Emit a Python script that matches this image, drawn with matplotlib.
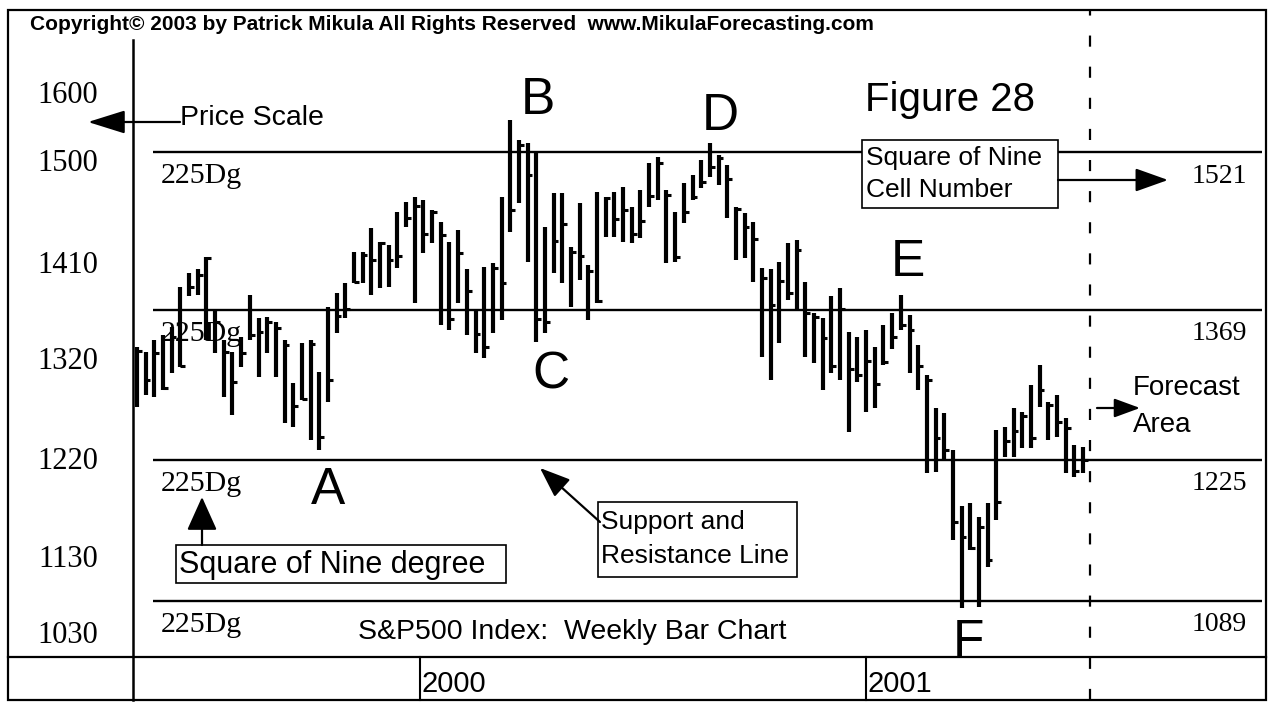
import matplotlib
matplotlib.use("Agg")
import matplotlib.pyplot as plt
from matplotlib.patches import Rectangle, FancyArrowPatch

# ---------------- data (weekly S&P500 bars) ----------------
highs = [1333, 1329, 1340, 1345, 1353, 1391, 1405, 1408, 1420, 1369,
         1340, 1329, 1343, 1383, 1361, 1362, 1357, 1340, 1299, 1337,
         1340, 1309, 1372, 1385, 1395, 1425, 1425, 1448, 1434, 1432,
         1463, 1473, 1478, 1475, 1465, 1454, 1434, 1446, 1408, 1369,
         1410, 1414, 1478, 1552, 1533, 1530, 1520, 1449, 1482, 1482,
         1430, 1472, 1412, 1483, 1478, 1483, 1487, 1468, 1484, 1510,
         1516, 1484, 1463, 1491, 1499, 1513, 1530, 1518, 1509, 1468,
         1462, 1454, 1409, 1408, 1415, 1433, 1436, 1396, 1366, 1361,
         1382, 1390, 1348, 1343, 1350, 1333, 1355, 1366, 1383, 1364,
         1335, 1306, 1275, 1270, 1234, 1180, 1183, 1170, 1183, 1254,
         1256, 1275, 1271, 1297, 1316, 1280, 1287, 1265, 1239, 1237]
lows = [1276, 1287, 1285, 1292, 1308, 1314, 1382, 1383, 1340, 1328,
        1285, 1268, 1314, 1340, 1305, 1328, 1305, 1260, 1256, 1282,
        1244, 1234, 1280, 1347, 1361, 1395, 1395, 1383, 1390, 1391,
        1409, 1449, 1376, 1424, 1433, 1355, 1350, 1376, 1345, 1328,
        1323, 1347, 1359, 1444, 1472, 1415, 1338, 1347, 1405, 1395,
        1372, 1398, 1359, 1376, 1439, 1439, 1434, 1433, 1438, 1468,
        1475, 1414, 1415, 1453, 1475, 1486, 1497, 1489, 1458, 1417,
        1419, 1396, 1324, 1302, 1337, 1379, 1369, 1324, 1318, 1292,
        1308, 1302, 1252, 1300, 1271, 1275, 1316, 1331, 1350, 1308,
        1292, 1212, 1213, 1225, 1148, 1082, 1138, 1083, 1122, 1167,
        1228, 1228, 1236, 1236, 1276, 1244, 1247, 1212, 1208, 1212]
closes = [1330, 1302, 1328, 1294, 1343, 1315, 1391, 1403, 1419, 1357,
          1329, 1300, 1328, 1345, 1348, 1357, 1352, 1335, 1277, 1283,
          1336, 1247, 1302, 1363, 1370, 1396, 1422, 1417, 1433, 1417,
          1421, 1458, 1469, 1442, 1463, 1441, 1360, 1424, 1387, 1346,
          1333, 1409, 1395, 1465, 1528, 1499, 1360, 1357, 1435, 1452,
          1425, 1421, 1407, 1378, 1477, 1457, 1465, 1442, 1455, 1479,
          1510, 1480, 1420, 1463, 1478, 1492, 1507, 1515, 1495, 1466,
          1449, 1437, 1400, 1374, 1397, 1385, 1427, 1366, 1362, 1342,
          1315, 1370, 1312, 1306, 1320, 1298, 1319, 1343, 1355, 1350,
          1315, 1302, 1246, 1234, 1165, 1151, 1140, 1160, 1128, 1184,
          1243, 1253, 1267, 1246, 1292, 1278, 1261, 1255, 1214, 1225]

sr_levels = [1521, 1369, 1225, 1089]
sr_labels = ["1521", "1369", "1225", "1089"]
degree_label = "225Dg"
ytick_pos = [1579, 1513, 1415, 1323, 1227, 1132, 1059]
ytick_labels = ["1600", "1500", "1410", "1320", "1220", "1130", "1030"]
year_pos = [32.6, 84.0]
year_labels = ["2000", "2001"]
forecast_start = 109.8

SANS = "Liberation Sans"
SERIF = "Liberation Serif"

W, H = 1274, 704
fig = plt.figure(figsize=(W / 100, H / 100), dpi=100)
fig.patch.set_facecolor("white")

# main price axes (pixel frame of the chart area)
AX_L, AX_R, AX_T, AX_B = 133, 1268, 40, 657
ax = fig.add_axes([AX_L / W, 1 - AX_B / H, (AX_R - AX_L) / W, (AX_B - AX_T) / H])
ax.set_facecolor("none")
ax.set_xlim(-0.461, 130.30)
ax.set_ylim(1035.1, 1628.8)
for s in ax.spines.values():
    s.set_visible(False)

xs = list(range(len(highs)))
ax.vlines(xs, lows, highs, colors="black", lw=3.0)
ax.hlines(closes, [x for x in xs], [x + 0.55 for x in xs], colors="black", lw=2.2)

# support / resistance lines
ax.hlines(sr_levels, 1.85, 129.6, colors="black", lw=1.7)
for lvl, lab in zip(sr_levels, sr_labels):
    ax.annotate(degree_label, xy=(2.75, lvl), xytext=(0, -24), textcoords="offset pixels",
                ha="left", va="center", fontsize=21.5, family=SERIF)
    ax.annotate(lab, xy=(127.9, lvl), xytext=(0, -24), textcoords="offset pixels",
                ha="right", va="center", fontsize=20, family=SERIF)

# price tick labels
ax.set_yticks(ytick_pos)
ax.set_yticklabels(ytick_labels, fontsize=22, family=SERIF)
ax.tick_params(axis="y", length=0, pad=25)
ax.set_xticks([])

# time axis row
xt = ax.get_xaxis_transform()
row_bot = -(700 - AX_B) / (AX_B - AX_T)
for xp, lab in zip(year_pos, year_labels):
    ax.plot([xp, xp], [0, row_bot], transform=xt, color="black", lw=1.5, clip_on=False)
    ax.text(xp + 0.15, -(684 - AX_B) / (AX_B - AX_T), lab, transform=xt, ha="left",
            va="center", fontsize=21, family=SANS)

# forecast boundary (dashed)
ax.plot([forecast_start, forecast_start], [row_bot, (AX_B - 10) / (AX_B - AX_T)],
        transform=xt, color="black", lw=1.6, ls=(0, (5, 9)), clip_on=False)

# ---------------- overlay for frame, notes and arrows (pixel coords) ----------------
ov = fig.add_axes([0, 0, 1, 1])
ov.set_xlim(0, W)
ov.set_ylim(H, 0)
ov.axis("off")
ov.patch.set_visible(False)

ov.add_patch(Rectangle((8, 10), 1258, 690, fill=False, lw=1.6, ec="black"))
ov.plot([8, 1266], [657, 657], color="black", lw=1.6)
ov.plot([133, 133], [40, 700], color="black", lw=1.8)

ov.text(30, 25, "Copyright\u00a9 2003 by Patrick Mikula All Rights Reserved  www.MikulaForecasting.com",
        ha="left", va="center", fontsize=15, fontweight="bold", family=SANS)

ov.text(950, 100, "Figure 28", ha="center", va="center", fontsize=29, family=SANS)

# swing letters
for lab, (px, py) in zip(["B", "D", "E", "A", "C", "F"],
                         [(538, 101), (720, 116), (908, 263), (328, 490), (551, 375), (968, 642)]):
    ov.text(px, py, lab, ha="center", va="center", fontsize=37, family=SANS)

def arrow(x0, y0, x1, y1, hl=22, hw=18):
    ov.add_patch(FancyArrowPatch((x0, y0), (x1, y1),
                                 arrowstyle=f"-|>,head_length={hl*0.72/10:.2f},head_width={hw*0.36/10:.2f}",
                                 mutation_scale=10, lw=1.6, color="black", shrinkA=0, shrinkB=0))

# price scale
ov.text(180, 118, "Price Scale", ha="left", va="center", fontsize=20.5, family=SANS)
arrow(180, 122, 88, 122, hl=32, hw=20)

# square of nine cell number box
ov.add_patch(Rectangle((862, 140), 196, 68, fc="white", ec="black", lw=1.2))
ov.text(866, 158, "Square of Nine", ha="left", va="center", fontsize=19, family=SANS)
ov.text(866, 190, "Cell Number", ha="left", va="center", fontsize=19, family=SANS)
arrow(1058, 180, 1168, 180, hl=28, hw=20)

# forecast area
ov.text(1133, 388, "Forecast", ha="left", va="center", fontsize=20, family=SANS)
ov.text(1133, 425, "Area", ha="left", va="center", fontsize=20, family=SANS)
arrow(1097, 408, 1140, 408, hl=22, hw=16)

# support and resistance box
ov.add_patch(Rectangle((598, 502), 199, 75, fc="white", ec="black", lw=1.2))
ov.text(601, 522, "Support and", ha="left", va="center", fontsize=19, family=SANS)
ov.text(601, 556, "Resistance Line", ha="left", va="center", fontsize=19, family=SANS)
arrow(600, 522, 540, 468, hl=26, hw=20)

# square of nine degree box
ov.add_patch(Rectangle((176, 545), 330, 38, fc="white", ec="black", lw=1.2))
ov.text(179, 565, "Square of Nine degree", ha="left", va="center", fontsize=22, family=SANS)
arrow(202, 545, 202, 497, hl=29, hw=26)

ov.text(358, 632, "S&P500 Index:  Weekly Bar Chart", ha="left", va="center", fontsize=20.5, family=SANS)

fig.savefig("out.png", dpi=100, facecolor="white")
